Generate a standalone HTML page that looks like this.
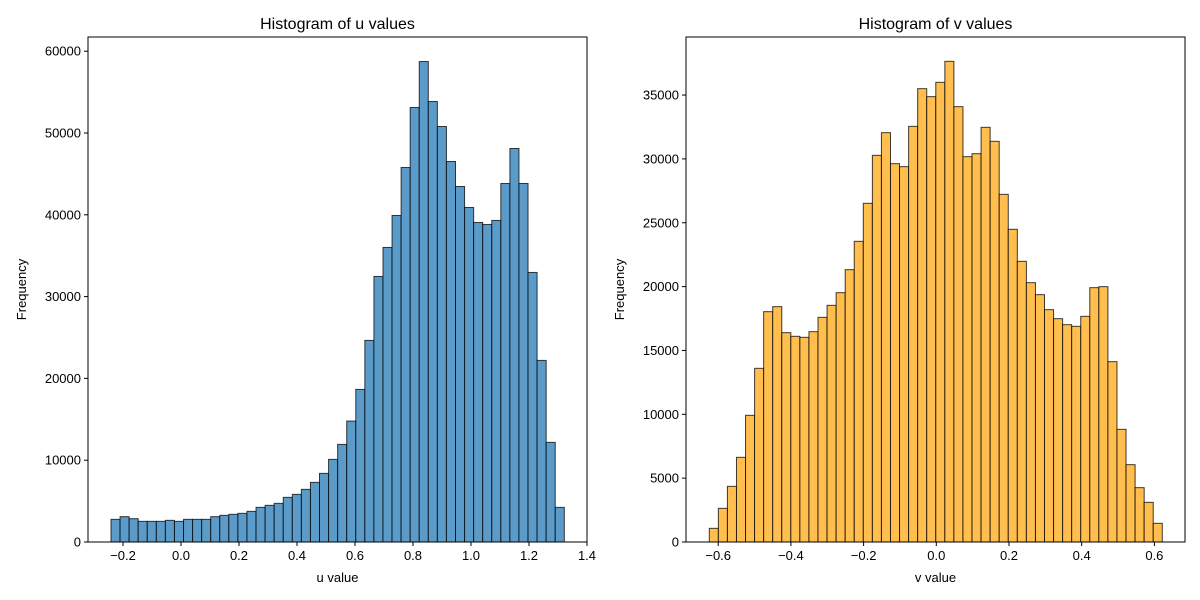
<!DOCTYPE html>
<html><head><meta charset="utf-8">
<style>
html,body{margin:0;padding:0;background:#fff;}
svg{display:block;font-family:"Liberation Sans","DejaVu Sans",sans-serif;}
</style></head>
<body>
<svg id="chart" width="1200" height="600" viewBox="0 0 1200 600" xmlns="http://www.w3.org/2000/svg"></svg>
<script>
// Left chart data (u values)
const uEdgeStart = -0.2414;
const uEdgeEnd = 1.3217;
const uCounts = [2770,3096,2851,2525,2525,2525,2648,2525,2770,2770,2770,3096,3259,3381,3503,3747,4236,4481,4725,5458,5825,6436,7291,8391,10102,11935,14786,18656,24644,32464,36008,39919,45784,53116,58737,53849,50794,46517,43462,40896,39063,38819,39308,43829,48106,43829,32953,22200,12179,4236];
const uXTicks = [-0.2,0.0,0.2,0.4,0.6,0.8,1.0,1.2,1.4];
const uXTickLabels = ["−0.2","0.0","0.2","0.4","0.6","0.8","1.0","1.2","1.4"];
const uYTicks = [0,10000,20000,30000,40000,50000,60000];

// Right chart data (v values)
const vEdgeStart = -0.6245;
const vEdgeEnd = 0.6217;
const vCounts = [1070,2636,4359,6630,9919,13600,18037,18429,16393,16106,16027,16471,17593,18533,19525,21326,23545,26521,30279,32054,29627,29392,32550,35500,34874,35996,37640,34090,30175,30410,32472,31376,27225,24485,21979,20308,19368,18194,17489,17019,16889,17672,19917,19995,14122,8823,6056,4255,3106,1462];
const vXTicks = [-0.6,-0.4,-0.2,0.0,0.2,0.4,0.6];
const vXTickLabels = ["−0.6","−0.4","−0.2","0.0","0.2","0.4","0.6"];
const vYTicks = [0,5000,10000,15000,20000,25000,30000,35000];

const NS = "http://www.w3.org/2000/svg";
const svg = document.getElementById("chart");
function mk(tag, attrs, parent){
  const e = document.createElementNS(NS, tag);
  for (const k in attrs) e.setAttribute(k, attrs[k]);
  (parent||svg).appendChild(e);
  return e;
}

function drawPanel(cfg){
  const g = mk("g", {});
  
  
  const x = v => cfg.x0 + (v - cfg.xmin) / (cfg.xmax - cfg.xmin) * (cfg.x1 - cfg.x0);
  const y = v => cfg.y1 - (v - 0) / (cfg.ymax) * (cfg.y1 - cfg.y0);
  const n = cfg.counts.length;
  const w = (cfg.edgeEnd - cfg.edgeStart) / n;
  cfg.counts.forEach((c, i) => {
    const a = x(cfg.edgeStart + i * w), b = x(cfg.edgeStart + (i + 1) * w);
    const r = mk("rect", {x: a, y: y(c), width: b - a, height: y(0) - y(c), fill: cfg.color, stroke: "#000", "stroke-opacity": 0.75, "stroke-width": 1}, g);
    
    
  });
  // spines
  const frame = mk("rect", {x: cfg.x0, y: cfg.y0, width: cfg.x1 - cfg.x0, height: cfg.y1 - cfg.y0, fill: "none", stroke: "#000", "stroke-width": 1}, g);
  
  
  cfg.xTicks.forEach((t, i) => {
    const px = x(t);
    mk("line", {x1: px, x2: px, y1: cfg.y1, y2: cfg.y1 + 4, stroke: "#000"}, g);
    const tx = mk("text", {x: px, y: cfg.y1 + 18, "font-size": 13, "text-anchor": "middle", fill: "#000"}, g);
    tx.textContent = cfg.xTickLabels[i];
    
    
  });
  cfg.yTicks.forEach(t => {
    const py = y(t);
    mk("line", {x1: cfg.x0 - 4, x2: cfg.x0, y1: py, y2: py, stroke: "#000"}, g);
    const tx = mk("text", {x: cfg.x0 - 7, y: py + 4.5, "font-size": 13, "text-anchor": "end", fill: "#000"}, g);
    tx.textContent = String(t);
    
    
  });
  const title = mk("text", {x: (cfg.x0 + cfg.x1) / 2, y: cfg.y0 - 8, "font-size": 16, "text-anchor": "middle", fill: "#000"}, g);
  title.textContent = cfg.title;
  
  
  const xl = mk("text", {x: (cfg.x0 + cfg.x1) / 2, y: cfg.y1 + 40, "font-size": 13, "text-anchor": "middle", fill: "#000"}, g);
  xl.textContent = cfg.xlabel;
  
  
  const yc = (cfg.y0 + cfg.y1) / 2;
  const yl = mk("text", {x: cfg.ylabelX, y: yc, "font-size": 13, "text-anchor": "middle", fill: "#000", transform: `rotate(-90 ${cfg.ylabelX} ${yc})`}, g);
  yl.textContent = "Frequency";
  
  
}

drawPanel({name: "u-histogram-panel", x0: 88, x1: 587, y0: 37, y1: 542, xmin: -0.3207, xmax: 1.4, ymax: 61736,
  counts: uCounts, edgeStart: uEdgeStart, edgeEnd: uEdgeEnd, color: "#5b9bc9",
  xTicks: uXTicks, xTickLabels: uXTickLabels, yTicks: uYTicks,
  title: "Histogram of u values", xlabel: "u value", ylabelX: 26});
drawPanel({name: "v-histogram-panel", x0: 686, x1: 1185, y0: 37, y1: 542, xmin: -0.6886, xmax: 0.6842, ymax: 39546,
  counts: vCounts, edgeStart: vEdgeStart, edgeEnd: vEdgeEnd, color: "#ffbe4d",
  xTicks: vXTicks, xTickLabels: vXTickLabels, yTicks: vYTicks,
  title: "Histogram of v values", xlabel: "v value", ylabelX: 624});
</script>
</body></html>
